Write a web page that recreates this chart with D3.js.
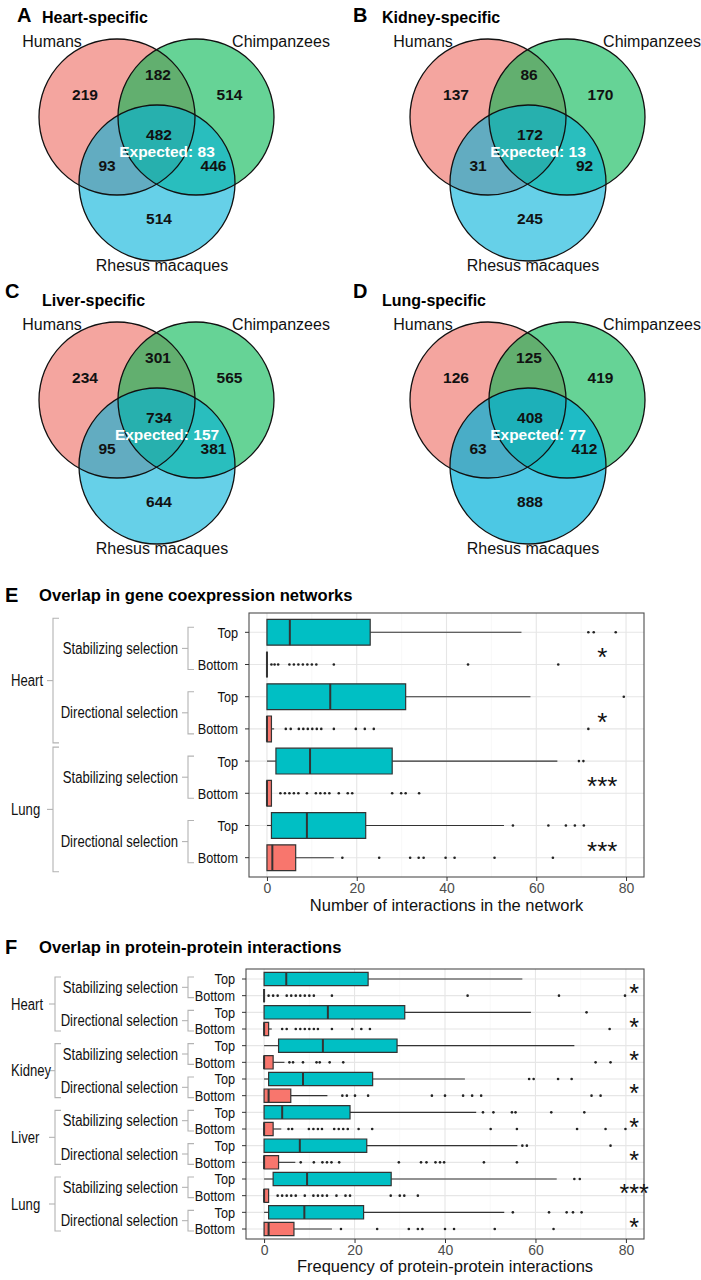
<!DOCTYPE html>
<html lang="en">
<head>
<meta charset="UTF-8">
<title>Overlap figure</title>
<style>
  body { margin: 0; background: #fff; }
  svg { display: block; }
</style>
</head>
<body>
<script src="https://cdn.jsdelivr.net/npm/d3@7"></script>
<script>
// ---- Venn data ----
var vennLetters = ["A", "B", "C", "D"];
var vennTitles = ["Heart-specific", "Kidney-specific", "Liver-specific", "Lung-specific"];
var species = ["Humans", "Chimpanzees", "Rhesus macaques"];
// order: Humans only, Chimp only, Rhesus only, H&C, H&R, C&R, all three
var vennCounts = [
  [219, 514, 514, 182, 93, 446, 482],
  [137, 170, 245, 86, 31, 92, 172],
  [234, 565, 644, 301, 95, 381, 734],
  [126, 419, 888, 125, 63, 412, 408]
];
var vennExpected = [83, 13, 157, 77];

// ---- boxplot data ----
var groups = ["Top", "Bottom"];
var selections = ["Stabilizing selection", "Directional selection"];
var coexprTissues = ["Heart", "Lung"];
var ppiTissues = ["Heart", "Kidney", "Liver", "Lung"];

// [lower whisker, Q1, median, Q3, upper whisker]
var coexprStats = [
  [0, 0, 5.1, 23, 56.7],
  [0, 0, 0, 0, 0],
  [0, 0, 14.1, 30.9, 58.7],
  [0, 0, 0, 1, 1.6],
  [0, 2, 9.6, 27.9, 64.7],
  [0, 0, 0, 1, 1],
  [0, 1, 8.9, 22, 52.8],
  [0, 0, 1.2, 6.4, 14.9]
];
var coexprOutliers = [
  [71.6, 72.8, 77.7],
  [1, 1.7, 2.5, 5, 6, 7, 8, 9, 10, 11, 14.9, 44.8, 64.9],
  [79.5],
  [4.2, 5.3, 7.1, 8.1, 9.1, 10.1, 11.1, 12.1, 14.9, 19.8, 21.8, 23.8, 71.6],
  [69.5, 70.5],
  [3, 4, 5, 6, 7, 8.9, 10.9, 11.9, 12.9, 13.9, 16, 18, 19, 27.9, 29.9, 30.9, 33.9],
  [54.8, 62.7, 66.6, 68.6, 70.6],
  [16.8, 25, 31.9, 33.8, 34.9, 39.8, 41.8, 50.7, 63.7]
];
var coexprStars = ["*", "*", "***", "***"];

var ppiStats = [
  [0, 0, 4.9, 23, 57.1],
  [0, 0, 0, 0, 0],
  [0, 0, 14.1, 31.1, 59],
  [0, 0, 0, 1, 1.7],
  [0, 3.2, 13, 29.4, 68.6],
  [0, 0, 0, 2, 4.5],
  [0, 1, 8.6, 24, 44.4],
  [0, 0, 1, 5.9, 14],
  [0, 0, 4, 19, 46.9],
  [0, 0, 0, 2, 3.8],
  [0, 0, 7.9, 22.7, 56],
  [0, 0, 0, 3.2, 6.9],
  [0, 2, 9.5, 28.1, 64.7],
  [0, 0, 0, 1, 1],
  [0, 1, 8.9, 22, 53.1],
  [0, 0, 1, 6.6, 15]
];
var ppiOutliers = [
  [],
  [1, 2, 3, 5, 6, 7, 8, 9, 10, 11, 15, 45, 65.2, 79.8],
  [71.3],
  [4, 5, 7, 8, 9, 10, 11, 11.9, 15, 19.5, 21.5, 23.4, 76.4],
  [],
  [5.6, 6.4, 8.6, 11.6, 12.3, 14.5, 17.5, 73.3, 76.6],
  [58.6, 59.6, 65, 68],
  [17.3, 18.3, 20.1, 23, 37.1, 40, 44, 46, 48, 72.4, 74.4],
  [48.4, 50.7, 54.8, 55.6, 63.5, 70.8],
  [5.4, 6.2, 9.9, 10.9, 11.9, 12.8, 15.5, 16.5, 17.5, 18.5, 20.9, 23.9, 50.1, 55.9, 69.2, 75.5, 79.9],
  [57.1, 58.1, 76.6],
  [8.1, 11, 12.9, 13.9, 14.9, 16.6, 29.8, 34.7, 35.9, 37.9, 38.9, 39.8, 48.6, 55.9],
  [68.6, 69.8],
  [3, 4, 5, 6, 7, 9, 10.9, 11.9, 12.9, 13.9, 16, 18, 19, 28, 30, 31, 34],
  [55, 63, 66.9, 68.3, 70.2],
  [17, 25, 32, 34, 35, 40, 42, 51, 64]
];
var ppiStars = ["*", "*", "*", "*", "*", "*", "***", "*"];

var xTicks = [0, 20, 40, 60, 80];

// ---- drawing ----
var sans = "'Liberation Sans', Arial, Helvetica, sans-serif";

var svg = d3.select("body").append("svg").attr("width", 701).attr("height", 1280)
  .style("background", "#fff");

// condensed text: no narrow face installed, so squeeze Liberation Sans
function ntext(g, x, y, str, size, anchor) {
  return g.append("text")
    .attr("transform", "translate(" + x + "," + y + ") scale(0.82,1)")
    .attr("dy", "0.35em").attr("text-anchor", anchor)
    .style("font-family", sans).style("font-size", size + "px").attr("fill", "#111")
    .text(str);
}

// venn panels
var vennOrigins = [[0, 0], [371, 0], [0, 283], [371, 283]];
var circleFill = ["#ec695f", "#00b650", "#00b1d9"];
var circleCenters = [[117, 117], [196, 117], [157, 183]];
var regionOffsets = [[85, 95], [229.5, 95], [159, 219], [158, 75], [107, 166], [213.5, 166], [159, 134.5]];

vennCounts.forEach(function(counts, i) {
  var o = vennOrigins[i];
  var g = svg.append("g").attr("transform", "translate(" + o[0] + "," + o[1] + ")");
  var letterY = i < 2 ? 15 : 8;
  var letterX = i % 2 === 0 ? (i < 2 ? 17 : 5) : -18;
  g.append("text").attr("x", letterX).attr("y", letterY).attr("dy", "0.35em")
    .style("font-family", sans).style("font-weight", "bold").style("font-size", "20px")
    .text(vennLetters[i]);
  g.append("text").attr("x", i % 2 === 0 ? 42 : 11).attr("y", 17).attr("dy", "0.35em")
    .style("font-family", sans).style("font-weight", "bold").style("font-size", "16px")
    .text(vennTitles[i]);

  g.selectAll("circle.fill").data(circleCenters).enter().append("circle")
    .attr("class", "fill")
    .attr("cx", function(d) { return d[0]; }).attr("cy", function(d) { return d[1]; })
    .attr("r", 78)
    .attr("fill", function(d, k) { return circleFill[k]; })
    .attr("fill-opacity", function(d, k) { return (k === 2 && i === 3) ? 0.7 : 0.6; });
  g.selectAll("circle.edge").data(circleCenters).enter().append("circle")
    .attr("class", "edge")
    .attr("cx", function(d) { return d[0]; }).attr("cy", function(d) { return d[1]; })
    .attr("r", 78).attr("fill", "none").attr("stroke", "#111").attr("stroke-width", 1.3);

  var labelPos = [[52, 41], [281, 41], [162, 265]];
  g.selectAll("text.sp").data(species).enter().append("text")
    .attr("class", "sp")
    .attr("x", function(d, k) { return labelPos[k][0]; })
    .attr("y", function(d, k) { return labelPos[k][1]; })
    .attr("dy", "0.35em").attr("text-anchor", "middle")
    .style("font-family", sans).style("font-size", "16px").attr("fill", "#111")
    .text(function(d) { return d; });

  g.selectAll("text.n").data(counts).enter().append("text")
    .attr("class", "n")
    .attr("x", function(d, k) { return regionOffsets[k][0]; })
    .attr("y", function(d, k) { return regionOffsets[k][1]; })
    .attr("dy", "0.35em").attr("text-anchor", "middle")
    .style("font-family", sans).style("font-weight", "bold").style("font-size", "15.5px")
    .attr("fill", "#111")
    .text(function(d) { return d; });

  g.append("text").attr("x", 167).attr("y", 151.5).attr("dy", "0.35em").attr("text-anchor", "middle")
    .style("font-family", sans).style("font-weight", "bold").style("font-size", "15.5px")
    .attr("fill", "#fff")
    .text("Expected: " + vennExpected[i]);
});

function boxPanel(p) {
  var stats = p.stats, n = stats.length;
  var x = d3.scaleLinear().domain([-4, 84]).range([p.left, p.right]);
  var y = d3.scalePoint().domain(d3.range(n)).range([p.top, p.bottom]).padding(0.6);
  var step = y.step(), bh = step * 0.8;
  var g = svg.append("g");

  // title
  g.append("text").attr("x", 5).attr("y", p.titleY).attr("dy", "0.35em")
    .style("font-family", sans).style("font-weight", "bold").style("font-size", "20px")
    .text(p.letter);
  g.append("text").attr("x", 39).attr("y", p.titleY).attr("dy", "0.35em")
    .style("font-family", sans).style("font-weight", "bold").style("font-size", "16.6px")
    .text(p.title);

  // grid
  g.selectAll("line.minor").data([10, 30, 50, 70]).enter().append("line")
    .attr("x1", x).attr("x2", x).attr("y1", p.top).attr("y2", p.bottom)
    .attr("stroke", "#f3f3f3").attr("stroke-width", 0.6);
  g.selectAll("line.major").data(xTicks).enter().append("line")
    .attr("x1", x).attr("x2", x).attr("y1", p.top).attr("y2", p.bottom)
    .attr("stroke", "#e6e6e6").attr("stroke-width", 1.1);
  g.selectAll("line.hgrid").data(d3.range(n)).enter().append("line")
    .attr("x1", p.left).attr("x2", p.right).attr("y1", y).attr("y2", y)
    .attr("stroke", "#e6e6e6").attr("stroke-width", 1.1);

  // whiskers
  stats.forEach(function(s, i) {
    var yy = y(i);
    if (s[1] > s[0]) g.append("line").attr("x1", x(s[0])).attr("x2", x(s[1])).attr("y1", yy).attr("y2", yy)
      .attr("stroke", "#333").attr("stroke-width", 1.1);
    if (s[4] > s[3]) g.append("line").attr("x1", x(s[3])).attr("x2", x(s[4])).attr("y1", yy).attr("y2", yy)
      .attr("stroke", "#333").attr("stroke-width", 1.1);
  });
  // boxes (path so zero-width boxes still show)
  g.selectAll("path.box").data(stats).enter().append("path")
    .attr("d", function(s, i) {
      var y0 = y(i) - bh / 2, y1 = y(i) + bh / 2;
      return "M" + x(s[1]) + "," + y0 + "H" + x(s[3]) + "V" + y1 + "H" + x(s[1]) + "Z";
    })
    .attr("fill", function(s, i) { return i % 2 === 0 ? "#00bfc4" : "#f8766d"; })
    .attr("stroke", "#333").attr("stroke-width", 1.2);
  g.selectAll("line.med").data(stats).enter().append("line")
    .attr("x1", function(s) { return x(s[2]); }).attr("x2", function(s) { return x(s[2]); })
    .attr("y1", function(s, i) { return y(i) - bh / 2; }).attr("y2", function(s, i) { return y(i) + bh / 2; })
    .attr("stroke", "#333").attr("stroke-width", 2);
  // outliers
  p.outliers.forEach(function(arr, i) {
    g.selectAll(null).data(arr).enter().append("circle")
      .attr("cx", function(d) { return x(d); }).attr("cy", y(i)).attr("r", 1.3).attr("fill", "#222");
  });

  // panel border
  g.append("rect").attr("x", p.left).attr("y", p.top).attr("width", p.right - p.left).attr("height", p.bottom - p.top)
    .attr("fill", "none").attr("stroke", "#4d4d4d").attr("stroke-width", 1.1);

  // x axis
  var ax = g.append("g").attr("transform", "translate(0," + p.bottom + ")")
    .call(d3.axisBottom(x).tickValues(xTicks).tickSize(4).tickPadding(2));
  ax.select(".domain").remove();
  ax.selectAll("line").attr("stroke", "#333");
  ax.selectAll("text").attr("fill", "#4d4d4d").style("font-family", sans).style("font-size", "14px");
  g.append("text").attr("x", (x(0) + x(80)) / 2).attr("y", p.xTitleY).attr("dy", "0.35em")
    .attr("text-anchor", "middle").style("font-family", sans).style("font-size", "16.5px").attr("fill", "#111")
    .text(p.xTitle);

  // y ticks and group labels
  g.selectAll("line.ytick").data(d3.range(n)).enter().append("line")
    .attr("x1", p.left - 4).attr("x2", p.left).attr("y1", y).attr("y2", y)
    .attr("stroke", "#333").attr("stroke-width", 1);
  d3.range(n).forEach(function(i) {
    ntext(g, p.left - 11, y(i), groups[i % 2], 15.5, "end");
  });

  // brackets
  var bracketColor = "#b3b3b3";
  function bracket(bx, y0, y1) {
    g.append("path").attr("d", "M" + (bx + 6) + "," + y0 + "H" + bx + "V" + y1 + "H" + (bx + 6))
      .attr("fill", "none").attr("stroke", bracketColor).attr("stroke-width", 1.1);
    var ym = (y0 + y1) / 2;
    g.append("line").attr("x1", bx - 6).attr("x2", bx).attr("y1", ym).attr("y2", ym)
      .attr("stroke", bracketColor).attr("stroke-width", 1.1);
    return ym;
  }
  p.tissues.forEach(function(t, ti) {
    var r0 = ti * 4;
    var ym = bracket(p.outerX, y(r0) - p.outerExt, y(r0 + 3) + p.outerExt);
    ntext(g, 11, ym, t, 16, "start");
    selections.forEach(function(s, si) {
      var rr = r0 + si * 2;
      var ym2 = bracket(188, y(rr) - p.innerExt, y(rr + 1) + p.innerExt);
      ntext(g, 178, ym2, s, 16, "end");
    });
  });

  // significance stars
  g.selectAll("text.star").data(p.stars).enter().append("text")
    .attr("x", x(p.starX))
    .attr("y", function(d, k) { return (y(2 * k) + y(2 * k + 1)) / 2 + p.starDy; })
    .attr("text-anchor", "middle").style("font-family", sans).style("font-size", p.starSize + "px")
    .attr("fill", "#111").text(function(d) { return d; });
}

boxPanel({
  letter: "E", title: "Overlap in gene coexpression networks", titleY: 595,
  stats: coexprStats, outliers: coexprOutliers, tissues: coexprTissues, stars: coexprStars,
  left: 249, right: 644, top: 613, bottom: 877,
  xTitle: "Number of interactions in the network", xTitleY: 905,
  innerExt: 5, outerExt: 14, outerX: 53, starX: 74.7, starDy: 18, starSize: 26
});

boxPanel({
  letter: "F", title: "Overlap in protein-protein interactions", titleY: 947,
  stats: ppiStats, outliers: ppiOutliers, tissues: ppiTissues, stars: ppiStars,
  left: 246, right: 644, top: 969, bottom: 1239,
  xTitle: "Frequency of protein-protein interactions", xTitleY: 1266,
  innerExt: 2, outerExt: 2, outerX: 55, starX: 81.8, starDy: 15, starSize: 25
});
</script>
</body>
</html>
